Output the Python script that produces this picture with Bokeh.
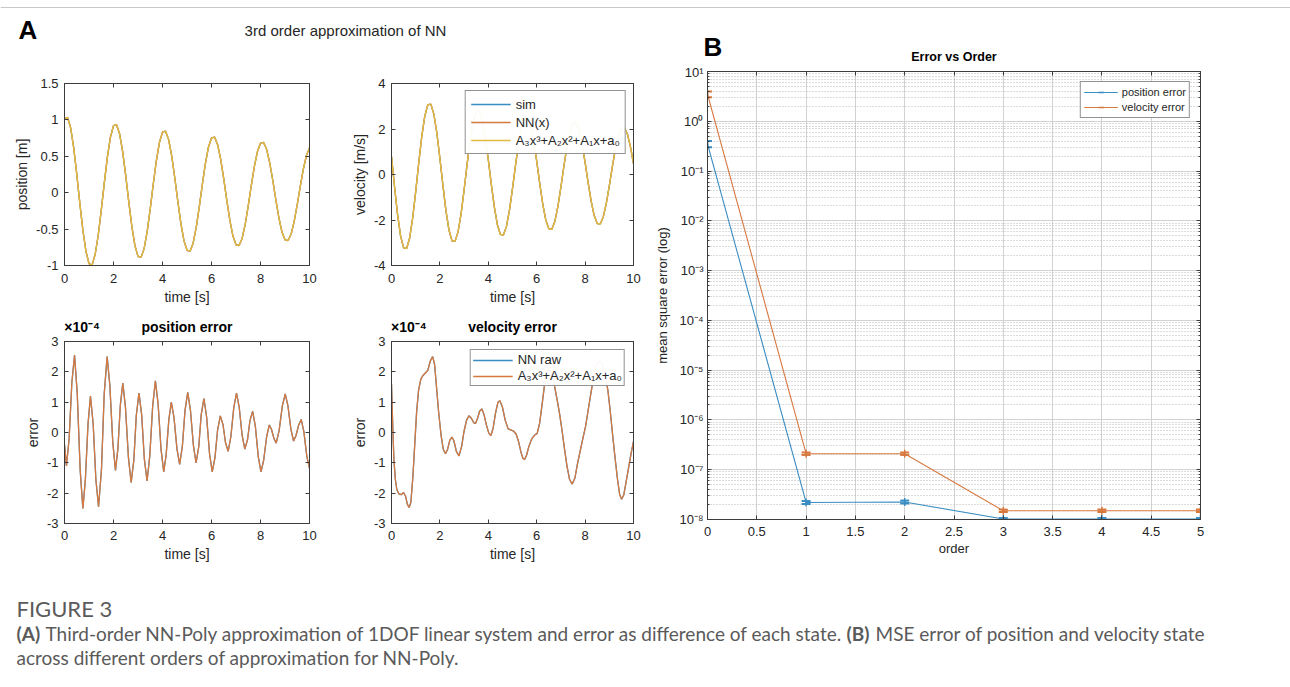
from bokeh.plotting import figure
from bokeh.models import (Range1d, FixedTicker, CustomJSTickFormatter, LinearAxis, LogAxis,
                          Label, Legend, LegendItem, Whisker, ColumnDataSource, TeeHead, Span)
from bokeh.layouts import row, column
from bokeh.embed import file_html
from bokeh.resources import INLINE

FONT = "Liberation Sans"
CAP_FONT = "Lato"
INK = "#262626"
FRAME = "#3c3c3c"
BLUE = "#3a8dc2"
ORANGE = "#d7783f"
YELLOW = "#e2bb42"

# ---------------- data ----------------
t_state = [0.0, 0.125, 0.25, 0.375, 0.5, 0.625, 0.75, 0.875, 1.0, 1.125, 1.25, 1.375, 1.5, 1.625, 1.75, 1.875,
           2.0, 2.125, 2.25, 2.375, 2.5, 2.625, 2.75, 2.875, 3.0, 3.125, 3.25, 3.375, 3.5, 3.625, 3.75, 3.875,
           4.0, 4.125, 4.25, 4.375, 4.5, 4.625, 4.75, 4.875, 5.0, 5.125, 5.25, 5.375, 5.5, 5.625, 5.75, 5.875,
           6.0, 6.125, 6.25, 6.375, 6.5, 6.625, 6.75, 6.875, 7.0, 7.125, 7.25, 7.375, 7.5, 7.625, 7.75, 7.875,
           8.0, 8.125, 8.25, 8.375, 8.5, 8.625, 8.75, 8.875, 9.0, 9.125, 9.25, 9.375, 9.5, 9.625, 9.75, 9.875,
           10.0]
pos_sim = [1.017, 1.033, 0.892, 0.619, 0.255, -0.143, -0.515, -0.804, -0.975, -0.995, -0.849, -0.588, -0.242, 0.136, 0.489, 0.764,
           0.920, 0.934, 0.807, 0.560, 0.231, -0.129, -0.466, -0.727, -0.874, -0.888, -0.768, -0.532, -0.219, 0.123, 0.442, 0.691,
           0.832, 0.845, 0.729, 0.506, 0.209, -0.117, -0.421, -0.658, -0.791, -0.803, -0.694, -0.481, -0.198, 0.111, 0.400, 0.625,
           0.752, 0.764, 0.660, 0.458, 0.189, -0.106, -0.381, -0.595, -0.715, -0.726, -0.628, -0.435, -0.179, 0.101, 0.362, 0.565,
           0.680, 0.691, 0.596, 0.414, 0.171, -0.096, -0.344, -0.538, -0.647, -0.657, -0.568, -0.393, -0.162, 0.091, 0.327, 0.511,
           0.615]
vel_sim = [0.792, -0.529, -1.754, -2.699, -3.222, -3.252, -2.789, -1.911, -0.754, 0.504, 1.668, 2.566, 3.064, 3.093, 2.652, 1.817,
           0.716, -0.478, -1.586, -2.441, -2.914, -2.941, -2.522, -1.728, -0.682, 0.456, 1.508, 2.320, 2.771, 2.797, 2.398, 1.643,
           0.648, -0.433, -1.434, -2.207, -2.635, -2.659, -2.281, -1.563, -0.617, 0.412, 1.364, 2.098, 2.506, 2.529, 2.169, 1.486,
           0.586, -0.391, -1.297, -1.996, -2.383, -2.405, -2.063, -1.413, -0.558, 0.373, 1.233, 1.898, 2.266, 2.287, 1.961, 1.344,
           0.530, -0.354, -1.173, -1.805, -2.155, -2.175, -1.865, -1.278, -0.504, 0.337, 1.115, 1.716, 2.049, 2.068, 1.773, 1.215,
           0.479]
pos_nn = pos_sim
pos_poly = pos_sim
vel_nn = vel_sim
vel_poly = vel_sim

# errors in units of 1e-4
t_perr = [0.00, 0.08, 0.19, 0.30, 0.41, 0.52, 0.64, 0.75, 0.85, 0.96,
          1.06, 1.17, 1.28, 1.39, 1.51, 1.62, 1.74, 1.85, 1.97, 2.08,
          2.18, 2.28, 2.38, 2.49, 2.61, 2.72, 2.83, 2.93, 3.04, 3.15,
          3.26, 3.37, 3.48, 3.60, 3.71, 3.82, 3.94, 4.05, 4.15, 4.26,
          4.36, 4.47, 4.59, 4.70, 4.81, 4.92, 5.03, 5.14, 5.26, 5.37,
          5.48, 5.58, 5.69, 5.80, 5.92, 6.03, 6.14, 6.25, 6.36, 6.47,
          6.57, 6.68, 6.79, 6.91, 7.02, 7.13, 7.25, 7.36, 7.47, 7.57,
          7.68, 7.79, 7.91, 8.02, 8.13, 8.25, 8.36, 8.45, 8.55, 8.64,
          8.76, 8.89, 9.01, 9.12, 9.24, 9.35, 9.45, 9.56, 9.66, 9.77,
          9.89, 10.00]
pos_err_poly = [-0.40, -1.10, -0.19, 1.64, 2.55, 1.29, -1.24, -2.50, -1.58, 0.28,
                1.20, 0.29, -1.54, -2.45, -1.21, 1.26, 2.50, 1.56, -0.31, -1.25,
                -0.53, 0.91, 1.63, 0.81, -0.83, -1.65, -0.91, 0.56, 1.30, 0.58,
                -0.88, -1.60, -0.78, 0.88, 1.70, 0.95, -0.55, -1.30, -0.73, 0.43,
                1.00, 0.49, -0.54, -1.05, -0.46, 0.73, 1.32, 0.74, -0.42, -1.00,
                -0.47, 0.59, 1.12, 0.52, -0.70, -1.30, -0.84, 0.09, 0.55, 0.26,
                -0.33, -0.62, -0.14, 0.82, 1.30, 0.84, -0.09, -0.55, -0.24, 0.39,
                0.70, 0.20, -0.80, -1.30, -0.91, -0.14, 0.25, 0.10, -0.20, -0.35,
                0.06, 0.87, 1.27, 0.88, 0.11, -0.28, -0.10, 0.25, 0.43, 0.03,
                -0.78, -1.18]
pos_err_raw = pos_err_poly

t_verr = [0.00, 0.03, 0.06, 0.10, 0.16, 0.22, 0.30, 0.40, 0.50, 0.58,
          0.66, 0.73, 0.80, 0.88, 0.96, 1.04, 1.12, 1.21, 1.30, 1.40,
          1.50, 1.60, 1.70, 1.78, 1.86, 1.95, 2.05, 2.14, 2.23, 2.32,
          2.41, 2.50, 2.58, 2.68, 2.79, 2.90, 3.00, 3.10, 3.20, 3.30,
          3.40, 3.47, 3.55, 3.64, 3.73, 3.82, 3.92, 4.02, 4.11, 4.20,
          4.30, 4.40, 4.48, 4.58, 4.70, 4.82, 4.95, 5.05, 5.15, 5.25,
          5.35, 5.43, 5.50, 5.58, 5.68, 5.80, 5.92, 6.02, 6.12, 6.22,
          6.32, 6.42, 6.52, 6.62, 6.72, 6.84, 6.95, 7.05, 7.15, 7.25,
          7.36, 7.47, 7.58, 7.68, 7.80, 7.92, 8.02, 8.12, 8.24, 8.36,
          8.48, 8.60, 8.72, 8.84, 8.94, 9.04, 9.14, 9.24, 9.34, 9.43,
          9.51, 9.60, 9.70, 9.80, 9.90, 10.00]
vel_err_poly = [1.60, 0.80, 0.00, -0.90, -1.55, -1.88, -2.02, -2.05, -1.98, -2.10,
                -2.38, -2.47, -2.30, -1.50, -0.40, 0.70, 1.40, 1.75, 1.88, 1.96,
                2.05, 2.35, 2.50, 2.25, 1.50, 0.65, -0.10, -0.55, -0.70, -0.55,
                -0.25, -0.15, -0.28, -0.62, -0.77, -0.45, 0.05, 0.40, 0.55, 0.47,
                0.32, 0.30, 0.45, 0.70, 0.78, 0.60, 0.25, -0.02, -0.10, 0.15,
                0.65, 1.00, 1.05, 0.85, 0.40, 0.12, 0.08, 0.04, -0.05, -0.30,
                -0.65, -0.85, -0.89, -0.75, -0.45, -0.20, -0.08, -0.03, 0.30, 0.90,
                1.55, 1.95, 2.10, 1.95, 1.60, 1.10, 0.60, 0.05, -0.55, -1.10,
                -1.55, -1.70, -1.50, -1.05, -0.60, -0.15, 0.20, 0.70, 1.30, 1.85,
                2.25, 2.35, 2.25, 1.85, 1.40, 0.70, -0.10, -0.85, -1.55, -2.05,
                -2.20, -2.05, -1.60, -1.15, -0.70, -0.29]
vel_err_raw = vel_err_poly

orders = [0, 1, 2, 3, 4, 5]
mse_pos = [0.35, 2.2e-8, 2.25e-8, 1.02e-8, 1.02e-8, 1.02e-8]
mse_vel = [3.5, 2.1e-7, 2.1e-7, 1.5e-8, 1.5e-8, 1.5e-8]
sd_pos = [0.05, 1.5e-9, 1.5e-9, 5e-10, 5e-10, 5e-10]
sd_vel = [0.45, 1.2e-8, 1.2e-8, 8e-10, 8e-10, 8e-10]

time_ticks = [0, 2, 4, 6, 8, 10]
pos_ticks = [-1, -0.5, 0, 0.5, 1, 1.5]
vel_ticks = [-4, -2, 0, 2, 4]
err_ticks = [-3, -2, -1, 0, 1, 2, 3]
order_ticks = [0, 0.5, 1, 1.5, 2, 2.5, 3, 3.5, 4, 4.5, 5]
poly_label = "A\u2083x\u00b3+A\u2082x\u00b2+A\u2081x+a\u2080"

NUM_FMT = CustomJSTickFormatter(code="return String(Math.round(tick*1000)/1000);")
EMPTY_FMT = CustomJSTickFormatter(code="return '';")
LOG_FMT = CustomJSTickFormatter(code="""
const e = Math.round(Math.log10(tick));
const sup = {'-':'\u207b','0':'\u2070','1':'\u00b9','2':'\u00b2','3':'\u00b3','4':'\u2074',
             '5':'\u2075','6':'\u2076','7':'\u2077','8':'\u2078','9':'\u2079'};
return '10' + String(e).split('').map(c => sup[c]).join('');
""")


def style_axis(ax, size="13px", standoff=6, label_standoff=3, label_size="14px"):
    ax.axis_line_color = FRAME
    ax.major_tick_line_color = FRAME
    ax.minor_tick_line_color = FRAME
    ax.major_tick_in = 4
    ax.major_tick_out = 0
    ax.minor_tick_in = 0
    ax.minor_tick_out = 0
    ax.major_label_text_font = FONT
    ax.major_label_text_font_size = size
    ax.major_label_text_color = INK
    ax.major_label_standoff = standoff
    ax.axis_label_text_font = FONT
    ax.axis_label_text_font_style = "normal"
    ax.axis_label_text_font_size = label_size
    ax.axis_label_text_color = INK
    ax.axis_label_standoff = label_standoff


def mirror(p, xticker, yticker, log=False, minor=0):
    r = (LogAxis if log else LinearAxis)(ticker=yticker, formatter=EMPTY_FMT)
    a = LinearAxis(ticker=xticker, formatter=EMPTY_FMT)
    for ax in (r, a):
        style_axis(ax)
        ax.major_label_text_font_size = "1px"
        ax.major_label_standoff = 0
    r.minor_tick_in = minor
    p.add_layout(r, "right")
    p.add_layout(a, "above")


def base_fig(width, height, xr, yr, mb, y_type="linear"):
    p = figure(width=width, height=height, x_range=Range1d(*xr), y_range=Range1d(*yr),
               y_axis_type=y_type, toolbar_location=None, output_backend="svg",
               min_border_left=mb[0], min_border_right=mb[1],
               min_border_top=mb[2], min_border_bottom=mb[3])
    p.background_fill_color = "white"
    p.border_fill_color = "white"
    p.outline_line_color = FRAME
    p.outline_line_width = 1
    return p


def strip(width, height):
    s = figure(width=width, height=height, x_range=Range1d(0, width), y_range=Range1d(0, height),
               toolbar_location=None, output_backend="svg", min_border=0)
    s.axis.visible = False
    s.grid.visible = False
    s.outline_line_color = None
    s.background_fill_color = "white"
    s.border_fill_color = "white"
    return s


def time_fig(width, height, mb, yr, yticks, ylabel, xstand):
    p = base_fig(width, height, (0, 10), yr, mb)
    p.grid.visible = False
    xt = FixedTicker(ticks=time_ticks)
    yt = FixedTicker(ticks=yticks)
    p.xaxis.ticker = xt
    p.yaxis.ticker = yt
    p.xaxis.formatter = NUM_FMT
    p.yaxis.formatter = NUM_FMT
    p.xaxis.axis_label = "time [s]"
    p.yaxis.axis_label = ylabel
    for ax in p.xaxis:
        style_axis(ax, standoff=xstand, label_standoff=3)
    for ax in p.yaxis:
        style_axis(ax, standoff=6, label_standoff=3)
    mirror(p, xt, yt)
    return p


def top_titles(p, title):
    # exponent note and subplot title drawn as labels of an extra top axis
    ax = LinearAxis(ticker=FixedTicker(ticks=[0.72, 5]),
                    formatter=CustomJSTickFormatter(
                        code="return tick < 2 ? '\u00d710\u207b\u2074' : '%s';" % title))
    ax.axis_line_color = None
    ax.major_tick_line_color = None
    ax.minor_tick_line_color = None
    ax.major_label_text_font = FONT
    ax.major_label_text_font_size = "14px"
    ax.major_label_text_font_style = "bold"
    ax.major_label_text_color = "black"
    ax.major_label_standoff = 1
    p.add_layout(ax, "above")


# ---------------- top strip (panel letters and titles) ----------------
top = strip(1290, 64)
top.add_layout(Span(location=57, dimension="width", line_color="#c8c8c8", line_width=1))
top.add_layout(Label(x=18, y=35, text="A", text_font=FONT, text_font_size="26px",
                     text_font_style="bold", text_color="black", text_baseline="middle"))
top.add_layout(Label(x=345, y=34, text="3rd order approximation of NN", text_font=FONT,
                     text_font_size="15px", text_color=INK, text_align="center",
                     text_baseline="middle"))
top.add_layout(Label(x=703, y=18, text="B", text_font=FONT, text_font_size="26px",
                     text_font_style="bold", text_color="black", text_baseline="middle"))
top.add_layout(Label(x=953.5, y=8, text="Error vs Order", text_font=FONT,
                     text_font_size="12.5px", text_font_style="bold", text_color="black",
                     text_align="center", text_baseline="middle"))

# ---------------- top row ----------------
p_pos = time_fig(348, 251, (64, 39, 19, 50), (-1, 1.5), pos_ticks, "position [m]", 8)
p_pos.line(t_state, pos_sim, color=BLUE, line_width=1.3)
p_pos.line(t_state, pos_nn, color=ORANGE, line_width=1.3)
p_pos.line(t_state, pos_poly, color=YELLOW, line_width=1.4)

p_vel = time_fig(300, 251, (40, 15, 19, 50), (-4, 4), vel_ticks, "velocity [m/s]", 8)
r1 = p_vel.line(t_state, vel_sim, color=BLUE, line_width=1.3)
r2 = p_vel.line(t_state, vel_nn, color=ORANGE, line_width=1.3)
r3 = p_vel.line(t_state, vel_poly, color=YELLOW, line_width=1.4)
leg = Legend(items=[LegendItem(label="sim", renderers=[r1]),
                    LegendItem(label="NN(x)", renderers=[r2]),
                    LegendItem(label=poly_label, renderers=[r3])],
             location="top_right")
leg.label_text_font = FONT
leg.label_text_font_size = "13px"
leg.label_text_color = INK
leg.border_line_color = INK
leg.border_line_width = 1
leg.glyph_width = 40
leg.glyph_height = 16
leg.label_height = 16
leg.spacing = 2
leg.padding = 5
leg.margin = 7
leg.label_standoff = 5
p_vel.add_layout(leg)

# ---------------- bottom row ----------------
p_perr = time_fig(348, 253, (64, 39, 23, 45), (-3, 3), err_ticks, "error", 7)
top_titles(p_perr, "position error")
p_perr.line(t_perr, pos_err_raw, color=BLUE, line_width=1.3)
p_perr.line(t_perr, pos_err_poly, color=ORANGE, line_width=1.3)

p_verr = time_fig(300, 253, (40, 15, 23, 45), (-3, 3), err_ticks, "error", 7)
top_titles(p_verr, "velocity error")
q1 = p_verr.line(t_verr, vel_err_raw, color=BLUE, line_width=1.3)
q2 = p_verr.line(t_verr, vel_err_poly, color=ORANGE, line_width=1.3)
leg2 = Legend(items=[LegendItem(label="NN raw", renderers=[q1]),
                     LegendItem(label=poly_label, renderers=[q2])],
              location="top_right")
leg2.label_text_font = FONT
leg2.label_text_font_size = "13px"
leg2.label_text_color = INK
leg2.border_line_color = INK
leg2.border_line_width = 1
leg2.glyph_width = 40
leg2.glyph_height = 14
leg2.label_height = 14
leg2.spacing = 1
leg2.padding = 2
leg2.margin = 8
leg2.label_standoff = 5
p_verr.add_layout(leg2)

# ---------------- panel B ----------------
pB = base_fig(626, 504, (0, 5), (1e-8, 10), (59, 74, 7, 49), y_type="log")
xtB = FixedTicker(ticks=order_ticks)
ytB = FixedTicker(ticks=[10.0 ** e for e in range(-8, 2)],
                  minor_ticks=[m * 10.0 ** e for e in range(-8, 1) for m in range(2, 10)])
pB.xaxis.ticker = xtB
pB.yaxis.ticker = ytB
pB.xaxis.formatter = NUM_FMT
pB.yaxis.formatter = LOG_FMT
pB.xaxis.axis_label = "order"
pB.yaxis.axis_label = "mean square error (log)"
for ax in pB.xaxis:
    style_axis(ax, size="13px", standoff=7, label_standoff=2, label_size="13px")
for ax in pB.yaxis:
    style_axis(ax, size="13px", standoff=4, label_standoff=6, label_size="13px")
    ax.minor_tick_in = 2
mirror(pB, xtB, ytB, log=True, minor=2)
pB.xgrid.ticker = xtB
pB.ygrid.ticker = ytB
pB.grid.grid_line_color = "#d2d2d2"
pB.grid.grid_line_width = 1
pB.ygrid.minor_grid_line_color = "#b9b9b9"
pB.ygrid.minor_grid_line_dash = "1 2"
pB.ygrid.minor_grid_line_width = 1

lp = pB.line(orders, mse_pos, color=BLUE, line_width=1.1)
lv = pB.line(orders, mse_vel, color=ORANGE, line_width=1.1)
for mse, sd, col in ((mse_pos, sd_pos, BLUE), (mse_vel, sd_vel, ORANGE)):
    src = ColumnDataSource(dict(x=orders, lo=[m - s for m, s in zip(mse, sd)],
                                hi=[m + s for m, s in zip(mse, sd)]))
    pB.add_layout(Whisker(source=src, base="x", lower="lo", upper="hi", dimension="height",
                          line_color=col, line_width=1.5,
                          upper_head=TeeHead(size=9, line_color=col, line_width=2),
                          lower_head=TeeHead(size=9, line_color=col, line_width=2)))
mp = pB.scatter(orders, mse_pos, marker="dash", angle=1.5708, size=8, line_color=BLUE, line_width=1.5)
mv = pB.scatter(orders, mse_vel, marker="dash", angle=1.5708, size=8, line_color=ORANGE, line_width=1.5)
legB = Legend(items=[LegendItem(label="position error", renderers=[lp, mp]),
                     LegendItem(label="velocity error", renderers=[lv, mv])],
              location="top_right")
legB.label_text_font = FONT
legB.label_text_font_size = "11px"
legB.label_text_color = INK
legB.border_line_color = INK
legB.border_line_width = 1
legB.glyph_width = 34
legB.glyph_height = 14
legB.label_height = 14
legB.spacing = 1
legB.padding = 3
legB.margin = 10
legB.label_standoff = 4
pB.add_layout(legB)

# ---------------- caption ----------------
cap = strip(1290, 119)
CAPC = "#5a5a5a"
def cap_label(x, y, text, bold=False, size="19px"):
    cap.add_layout(Label(x=x, y=y, text=text, text_font=CAP_FONT, text_font_size=size,
                         text_font_style="bold" if bold else "normal", text_color=CAPC,
                         text_baseline="middle"))
cap_label(16, 79, "FIGURE 3", size="22px")
cap_label(16, 54, "(A)", bold=True)
cap_label(45, 54, "Third-order NN-Poly approximation of 1DOF linear system and error as difference of each state.")
cap_label(846, 54, "(B)", bold=True)
cap_label(875, 54, "MSE error of position and velocity state")
cap_label(16, 30, "across different orders of approximation for NN-Poly.")

colA = column(row(p_pos, p_vel), row(p_perr, p_verr))
layout = column(top, row(colA, pB), cap)
open("out.html", "w", encoding="utf-8").write(file_html(layout, INLINE))
